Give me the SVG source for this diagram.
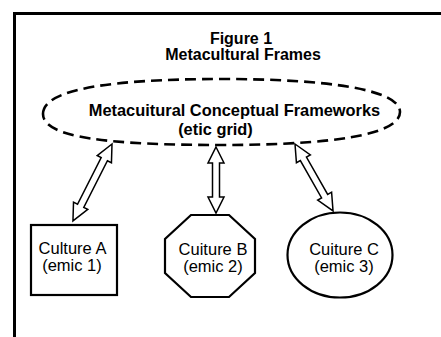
<svg xmlns="http://www.w3.org/2000/svg" width="441" height="337" viewBox="0 0 441 337">
<style>
.t{font-family:"Liberation Sans",Arial,sans-serif;fill:#000;text-anchor:middle}
.b{font-weight:bold;font-size:16px}
.m{font-weight:bold;font-size:16.4px}
.r{font-size:16.5px}
.node{fill:#fff;stroke:#000;stroke-width:2.2}
.arr{fill:#fff;stroke:#000;stroke-width:1.5;stroke-linejoin:miter}
</style>
<rect width="441" height="337" fill="#fff"/>
<path d="M14.5,337 V13.5 H441" fill="none" stroke="#000" stroke-width="3"/>
<g id="title">
<text class="t b" x="241" y="44">Figure 1</text>
<text class="t b" x="243" y="60">Metacultural Frames</text>
</g>
<g id="etic">
<path d="M43,114 C43,89 112,79 222,79 C330,79 400,90 400,112 C400,135 330,145 222,145 C110,145 43,138 43,114 Z" fill="none" stroke="#000" stroke-width="2.6" stroke-dasharray="11 6"/>
<text class="t m" x="234.5" y="116">Metacuitural Conceptual Frameworks</text>
<text class="t m" x="215.5" y="134.6">(etic grid)</text>
</g>
<g id="connectors">
<path class="arr" transform="translate(112,144) rotate(116.9)" d="M0,0 L17,-8 L17,-3.5 L69.3,-3.5 L69.3,-8 L86.3,0 L69.3,8 L69.3,3.5 L17,3.5 L17,8 Z"/>
<path class="arr" transform="translate(216,147) rotate(90)" d="M0,0 L16,-8 L16,-3.5 L50,-3.5 L50,-8 L66,0 L50,8 L50,3.5 L16,3.5 L16,8 Z"/>
<path class="arr" transform="translate(295,144) rotate(60.4)" d="M0,0 L17,-8 L17,-3.5 L60,-3.5 L60,-8 L77,0 L60,8 L60,3.5 L17,3.5 L17,8 Z"/>
</g>
<g id="cultureA">
<rect class="node" x="31" y="225" width="86" height="70" stroke-width="2.6"/>
<text class="t r" x="72.5" y="254">Culture A</text>
<text class="t r" x="72" y="271">(emic 1)</text>
</g>
<g id="cultureB">
<polygon class="node" points="191,215 229,215 255,239 255,273 229,297 191,297 165,273 165,239"/>
<text class="t r" x="213" y="255">Cuiture B</text>
<text class="t r" x="213" y="272">(emic 2)</text>
</g>
<g id="cultureC">
<ellipse class="node" cx="340" cy="255" rx="52.5" ry="42.5"/>
<text class="t r" x="344" y="255">Cuiture C</text>
<text class="t r" x="344" y="272">(emic 3)</text>
</g>
</svg>
